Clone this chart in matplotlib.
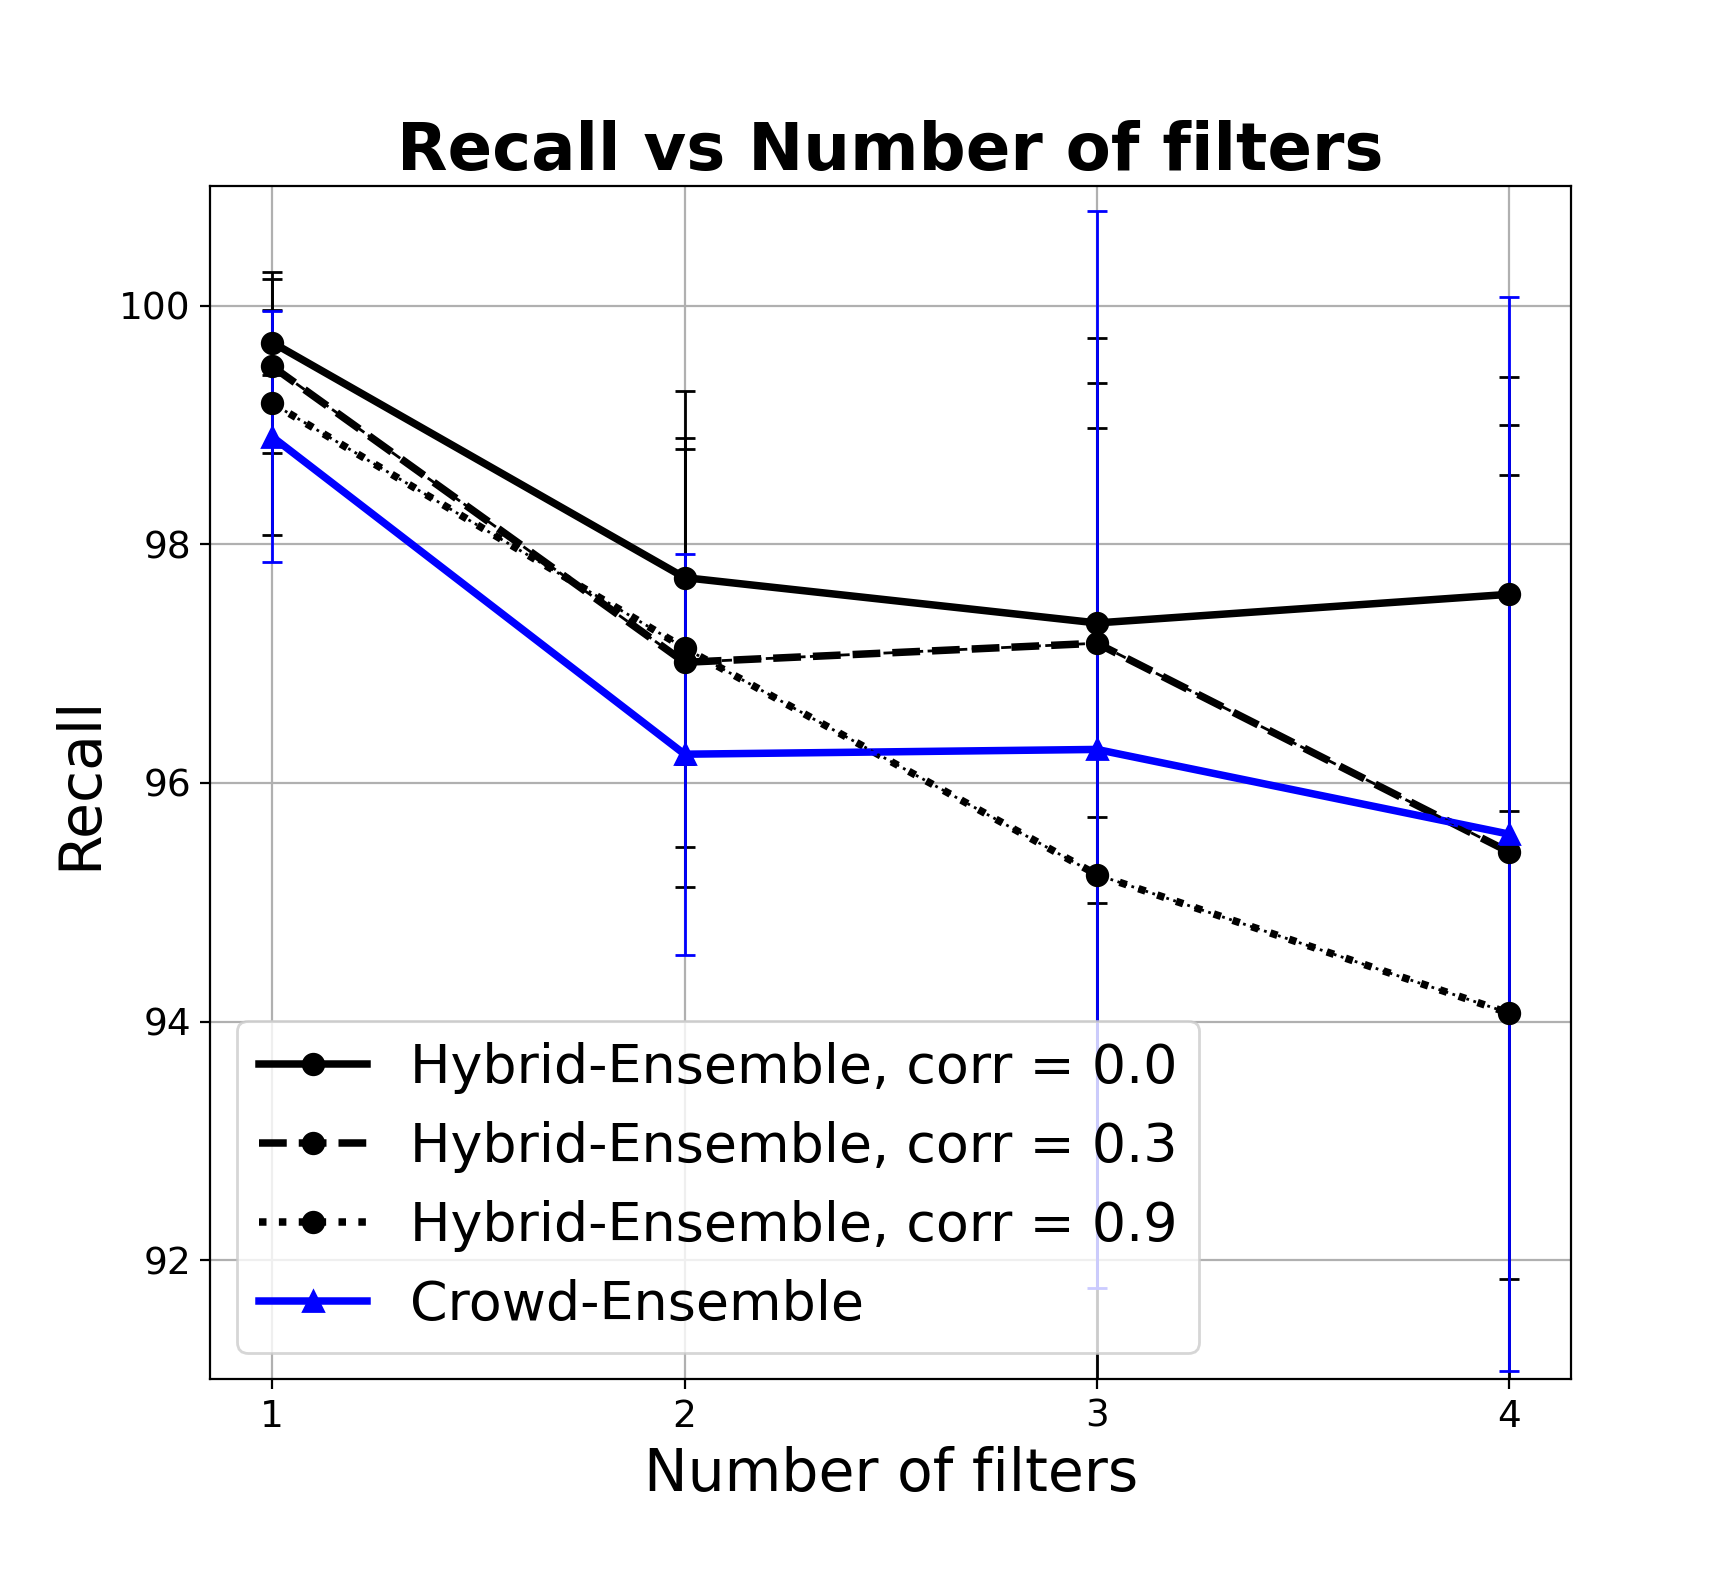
import matplotlib
matplotlib.use("Agg")
import matplotlib.pyplot as plt

# number of filters
n_filters = [1, 2, 3, 4]

# recall (mean) and error for each method
hybrid_00 = [99.69, 97.72, 97.34, 97.58]
hybrid_00_err = [0.27, 1.56, 1.63, 1.82]
hybrid_03 = [99.49, 97.01, 97.17, 95.42]
hybrid_03_err = [0.73, 1.88, 2.18, 3.58]
hybrid_09 = [99.18, 97.13, 95.23, 94.07]
hybrid_09_err = [1.10, 1.67, 4.50, 4.51]
crowd = [98.90, 96.24, 96.28, 95.57]
crowd_err = [1.05, 1.68, 4.51, 4.50]

labels = ["Hybrid-Ensemble, corr = 0.0", "Hybrid-Ensemble, corr = 0.3",
          "Hybrid-Ensemble, corr = 0.9", "Crowd-Ensemble"]


def plot():
    fig, ax = plt.subplots(figsize=(8.68, 7.89), dpi=200)
    fig.subplots_adjust(left=0.1212, right=0.905, top=0.882, bottom=0.1258)

    series = [
        (hybrid_00, hybrid_00_err, '-', 'o', 'k'),
        (hybrid_03, hybrid_03_err, '--', 'o', 'k'),
        (hybrid_09, hybrid_09_err, ':', 'o', 'k'),
        (crowd, crowd_err, '-', '^', 'b'),
    ]

    # error bars first (thin lines)
    for y, yerr, ls, mk, c in series:
        ax.errorbar(n_filters, y, yerr=yerr, ls=ls, lw=1, color=c,
                    elinewidth=1, capsize=3.6, capthick=1)

    # thick lines with markers on top
    for (y, yerr, ls, mk, c), lab in zip(series, labels):
        ax.plot(n_filters, y, ls=ls, marker=mk, color=c, lw=2.7,
                markersize=7.4, label=lab)

    ax.set_xlim(0.85, 4.15)
    ax.set_ylim(91.0, 101.0)
    ax.set_xticks(n_filters)
    ax.set_yticks([92, 94, 96, 98, 100])
    ax.tick_params(labelsize=13.5)
    ax.grid(True)

    ax.set_title("Recall vs Number of filters", fontsize=23.7, fontweight='bold')
    ax.set_xlabel("Number of filters", fontsize=21)
    ax.set_ylabel("Recall", fontsize=21)
    ax.legend(loc='lower left', fontsize=19.4)

    fig.savefig("out.png", dpi=200)
    plt.close()


def main():
    plot()


if __name__ == '__main__':
    main()
